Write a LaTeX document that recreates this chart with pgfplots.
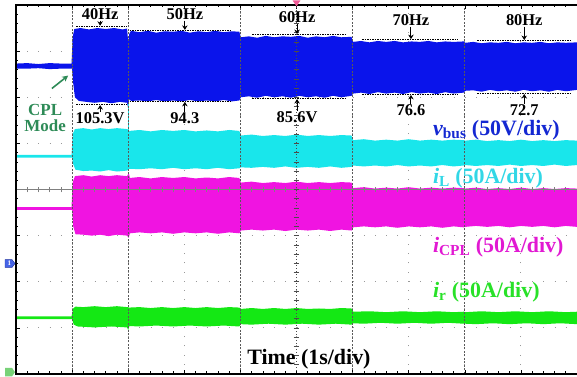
\documentclass[border=0pt]{standalone}
\usepackage{pgfplots}
\pgfplotsset{compat=1.18}
\usepackage{fontspec}
\setmainfont{Liberation Serif}
\usetikzlibrary{arrows.meta,calc}
\definecolor{cb}{RGB}{10,20,235}
\definecolor{cc}{RGB}{25,230,235}
\definecolor{cm}{RGB}{240,20,225}
\definecolor{cg}{RGB}{20,232,20}
\definecolor{lb}{RGB}{20,40,210}
\definecolor{lc}{RGB}{50,215,230}
\definecolor{lm}{RGB}{225,25,210}
\definecolor{lg}{RGB}{40,225,40}
\definecolor{cpl}{RGB}{46,139,87}
\tikzset{ma/.style={-{Stealth[length=4.5bp,width=5.5bp]}, line width=0.9pt, black},
  ml/.style={black, line width=1pt, dash pattern=on 1.5bp off 1bp},
  fq/.style={font=\fontsize{16.5}{18}\selectfont\bfseries, inner sep=0pt},
  ch/.style={font=\fontsize{22}{24}\selectfont\bfseries, inner sep=0pt, anchor=west}}
\begin{document}
\begin{tikzpicture}
\begin{axis}[
 scale only axis, width=561bp, height=369bp,
 xmin=0,xmax=10,ymin=-4,ymax=4,
 clip=false,
 axis line style={draw=none},
 xtick={0,...,10}, ytick={-4,...,4},
 minor x tick num=4, minor y tick num=4,
 xticklabels={}, yticklabels={},
 tick align=inside, xtick pos=both, ytick pos=left,
 major tick length=4bp, minor tick length=2.5bp,
 tick style={black, line width=0.6pt},
 grid=major,
 x grid style={gray!80, line width=1pt, dash pattern=on 1bp off 8.225bp},
 y grid style={gray!80, line width=1pt, dash pattern=on 1bp off 10.22bp},
]
% v_bus
\addplot[draw=none, fill=cb] coordinates {
(0,2.73) (0.2,2.74) (0.4,2.72) (0.6,2.74) (0.8,2.73) (0.99,2.73)
(1.01,3.30) (1.04,3.48) (1.15,3.50) (1.3,3.47) (1.45,3.50) (1.6,3.48) (1.75,3.50) (1.9,3.47) (1.98,3.49) (2.0,3.2)
(2.02,3.38) (2.05,3.44) (2.2,3.41) (2.35,3.44) (2.5,3.40) (2.65,3.43) (2.8,3.42) (2.95,3.44) (3.1,3.40) (3.25,3.43) (3.4,3.41) (3.55,3.44) (3.7,3.41) (3.85,3.43) (3.98,3.42)
(4.01,3.30) (4.15,3.32) (4.3,3.29) (4.45,3.33) (4.6,3.30) (4.75,3.32) (4.9,3.31) (5.05,3.33) (5.2,3.29) (5.35,3.32) (5.5,3.30) (5.65,3.33) (5.8,3.30) (5.98,3.31)
(6.01,3.20) (6.15,3.22) (6.3,3.19) (6.45,3.22) (6.6,3.20) (6.75,3.22) (6.9,3.19) (7.05,3.21) (7.2,3.20) (7.35,3.22) (7.5,3.19) (7.65,3.21) (7.8,3.20) (7.98,3.21)
(8.01,3.18) (8.15,3.20) (8.3,3.17) (8.45,3.19) (8.6,3.18) (8.75,3.20) (8.9,3.17) (9.05,3.19) (9.2,3.18) (9.35,3.20) (9.5,3.17) (9.65,3.19) (9.8,3.18) (10,3.19)
(10,2.16) (9.8,2.13) (9.65,2.16) (9.5,2.12) (9.35,2.15) (9.2,2.13) (9.05,2.16) (8.9,2.12) (8.75,2.15) (8.6,2.13) (8.45,2.16) (8.3,2.12) (8.15,2.15) (8.01,2.14)
(7.98,2.10) (7.8,2.08) (7.65,2.11) (7.5,2.07) (7.35,2.10) (7.2,2.08) (7.05,2.11) (6.9,2.07) (6.75,2.10) (6.6,2.08) (6.45,2.11) (6.3,2.07) (6.15,2.10) (6.01,2.08)
(5.98,2.03) (5.8,2.00) (5.65,2.03) (5.5,1.99) (5.35,2.02) (5.2,2.00) (5.05,2.03) (4.9,1.99) (4.75,2.02) (4.6,2.00) (4.45,2.03) (4.3,1.99) (4.15,2.02) (4.01,2.00)
(3.98,1.93) (3.85,1.91) (3.7,1.94) (3.55,1.91) (3.4,1.93) (3.25,1.91) (3.1,1.94) (2.95,1.91) (2.8,1.93) (2.65,1.91) (2.5,1.94) (2.35,1.91) (2.2,1.93) (2.05,1.92) (2.02,1.96)
(2.0,1.76)
(1.98,1.88) (1.85,1.90) (1.7,1.87) (1.55,1.90) (1.4,1.88) (1.25,1.90) (1.12,1.92) (1.05,2.0) (1.02,2.3) (1.0,2.62)
(0.8,2.62) (0.6,2.61) (0.4,2.63) (0.2,2.62) (0,2.62)};
% i_L
\addplot[draw=none, fill=cc] coordinates {
(0,0.75) (0.99,0.75) (1.01,1.20) (1.05,1.31) (1.2,1.33) (1.35,1.30) (1.5,1.33) (1.65,1.31) (1.8,1.33) (1.98,1.31)
(2.02,1.27) (2.2,1.29) (2.4,1.26) (2.6,1.29) (2.8,1.27) (3.0,1.29) (3.2,1.26) (3.4,1.28) (3.6,1.26) (3.8,1.29) (3.98,1.27)
(4.01,1.17) (4.2,1.19) (4.4,1.16) (4.6,1.18) (4.8,1.16) (5.0,1.19) (5.2,1.16) (5.4,1.18) (5.6,1.16) (5.8,1.18) (5.98,1.17)
(6.01,1.07) (6.2,1.09) (6.4,1.06) (6.6,1.08) (6.8,1.06) (7.0,1.09) (7.2,1.06) (7.4,1.08) (7.6,1.06) (7.8,1.08) (7.98,1.07)
(8.01,1.06) (8.2,1.08) (8.4,1.05) (8.6,1.07) (8.8,1.05) (9.0,1.08) (9.2,1.05) (9.4,1.07) (9.6,1.05) (9.8,1.07) (10,1.06)
(10,0.53) (9.8,0.51) (9.6,0.54) (9.4,0.51) (9.2,0.53) (9.0,0.51) (8.8,0.54) (8.6,0.51) (8.4,0.53) (8.2,0.51) (8.01,0.53)
(7.98,0.52) (7.8,0.50) (7.6,0.53) (7.4,0.50) (7.2,0.52) (7.0,0.50) (6.8,0.53) (6.6,0.50) (6.4,0.52) (6.2,0.50) (6.01,0.52)
(5.98,0.49) (5.8,0.47) (5.6,0.50) (5.4,0.47) (5.2,0.49) (5.0,0.47) (4.8,0.50) (4.6,0.47) (4.4,0.49) (4.2,0.47) (4.01,0.48)
(3.98,0.46) (3.8,0.44) (3.6,0.47) (3.4,0.44) (3.2,0.46) (3.0,0.44) (2.8,0.47) (2.6,0.44) (2.4,0.46) (2.2,0.44) (2.02,0.45)
(1.98,0.41) (1.8,0.39) (1.65,0.42) (1.5,0.39) (1.35,0.41) (1.2,0.40) (1.06,0.43) (1.02,0.55) (1.0,0.69) (0,0.69)};
\addplot[cc, line width=1.2pt] coordinates {(2.01,1.85) (2.01,0.45)};
% i_CPL
\addplot[draw=none, fill=cm] coordinates {
(0,-0.38) (0.99,-0.38) (1.01,0.15) (1.05,0.29) (1.2,0.31) (1.35,0.28) (1.5,0.31) (1.65,0.29) (1.8,0.31) (1.98,0.29)
(2.01,0.36)
(2.03,0.25) (2.2,0.27) (2.4,0.24) (2.6,0.27) (2.8,0.25) (3.0,0.27) (3.2,0.24) (3.4,0.26) (3.6,0.24) (3.8,0.27) (3.98,0.25)
(4.01,0.15) (4.2,0.17) (4.4,0.14) (4.6,0.16) (4.8,0.14) (5.0,0.17) (5.2,0.14) (5.4,0.16) (5.6,0.14) (5.8,0.16) (5.98,0.15)
(6.01,0.03) (6.2,0.05) (6.4,0.02) (6.6,0.04) (6.8,0.02) (7.0,0.05) (7.2,0.02) (7.4,0.04) (7.6,0.02) (7.8,0.04) (7.98,0.03)
(8.01,0.02) (8.2,0.04) (8.4,0.01) (8.6,0.03) (8.8,0.01) (9.0,0.04) (9.2,0.01) (9.4,0.03) (9.6,0.01) (9.8,0.03) (10,0.02)
(10,-0.81) (9.8,-0.79) (9.6,-0.82) (9.4,-0.79) (9.2,-0.81) (9.0,-0.79) (8.8,-0.82) (8.6,-0.79) (8.4,-0.81) (8.2,-0.79) (8.01,-0.81)
(7.98,-0.82) (7.8,-0.80) (7.6,-0.83) (7.4,-0.80) (7.2,-0.82) (7.0,-0.80) (6.8,-0.83) (6.6,-0.80) (6.4,-0.82) (6.2,-0.80) (6.01,-0.82)
(5.98,-0.89) (5.8,-0.87) (5.6,-0.90) (5.4,-0.87) (5.2,-0.89) (5.0,-0.87) (4.8,-0.90) (4.6,-0.87) (4.4,-0.89) (4.2,-0.87) (4.01,-0.89)
(3.98,-0.95) (3.8,-0.93) (3.6,-0.96) (3.4,-0.93) (3.2,-0.95) (3.0,-0.93) (2.8,-0.96) (2.6,-0.93) (2.4,-0.95) (2.2,-0.93) (2.03,-0.95)
(2.01,-1.05)
(1.98,-1.00) (1.8,-0.98) (1.65,-1.01) (1.5,-0.98) (1.35,-1.00) (1.2,-0.98) (1.06,-0.97) (1.02,-0.80) (1.0,-0.44) (0,-0.44)};
% i_r
\addplot[draw=none, fill=cg] coordinates {
(0,-2.75) (0.99,-2.75) (1.02,-2.58) (1.06,-2.54) (1.2,-2.55) (1.4,-2.53) (1.6,-2.55) (1.8,-2.53) (1.98,-2.55)
(2.02,-2.56) (2.2,-2.55) (2.4,-2.57) (2.6,-2.55) (2.8,-2.57) (3.0,-2.55) (3.2,-2.57) (3.4,-2.55) (3.6,-2.57) (3.8,-2.55) (3.98,-2.56)
(4.01,-2.59) (4.2,-2.57) (4.4,-2.59) (4.6,-2.57) (4.8,-2.59) (5.0,-2.57) (5.2,-2.59) (5.4,-2.58) (5.6,-2.59) (5.8,-2.57) (5.98,-2.58)
(6.01,-2.65) (6.3,-2.64) (6.6,-2.66) (6.9,-2.64) (7.2,-2.66) (7.5,-2.64) (7.8,-2.66) (7.98,-2.65)
(8.01,-2.66) (8.3,-2.64) (8.6,-2.66) (8.9,-2.64) (9.2,-2.66) (9.5,-2.64) (9.8,-2.66) (10,-2.65)
(10,-2.92) (9.7,-2.90) (9.4,-2.92) (9.1,-2.90) (8.8,-2.92) (8.5,-2.90) (8.2,-2.92) (8.01,-2.91)
(7.98,-2.91) (7.7,-2.89) (7.4,-2.91) (7.1,-2.89) (6.8,-2.91) (6.5,-2.89) (6.2,-2.91) (6.01,-2.90)
(5.98,-2.93) (5.7,-2.91) (5.4,-2.93) (5.1,-2.91) (4.8,-2.93) (4.5,-2.91) (4.2,-2.93) (4.01,-2.92)
(3.98,-2.97) (3.7,-2.95) (3.4,-2.97) (3.1,-2.95) (2.8,-2.97) (2.5,-2.95) (2.2,-2.97) (2.02,-2.96)
(2.0,-3.05)
(1.98,-2.99) (1.7,-2.97) (1.4,-2.99) (1.1,-2.97) (1.03,-2.93) (1.0,-2.81) (0,-2.81)};
% crosshair and division lines
\draw[gray, line width=0.8pt] (axis cs:0,0) -- (axis cs:10,0);
\pgfplotsinvokeforeach{0.2,0.4,...,9.8}{\draw[gray, line width=0.6pt] (axis cs:#1,-0.06) -- (axis cs:#1,0.06);}
\draw[black!70, line width=0.8pt, dash pattern=on 1bp off 2bp] (axis cs:5,-4) -- (axis cs:5,4);
\pgfplotsinvokeforeach{-3.8,-3.6,...,3.8}{\draw[black!70, line width=0.6pt] (axis cs:4.95,#1) -- (axis cs:5.05,#1);}
\pgfplotsinvokeforeach{1,2,4,6,8}{\draw[black!65, line width=0.9pt, dash pattern=on 2bp off 1.5bp] (axis cs:#1,-4) -- (axis cs:#1,4);}
% frame
\draw[black, line width=1.5bp] (axis cs:10,4) -- (axis cs:0,4) -- (axis cs:0,-4) -- (axis cs:10,-4);
% measurement lines
\draw[ml] (axis cs:1.07,3.54) -- (axis cs:1.98,3.54);
\draw[ml] (axis cs:1.07,1.84) -- (axis cs:1.98,1.84);
\draw[ml] (axis cs:2.03,3.45) -- (axis cs:3.85,3.45);
\draw[ml] (axis cs:2.03,1.91) -- (axis cs:3.85,1.91);
\draw[ml] (axis cs:4.21,3.36) -- (axis cs:5.86,3.36);
\draw[ml] (axis cs:4.21,1.97) -- (axis cs:5.86,1.97);
\draw[ml] (axis cs:6.17,3.25) -- (axis cs:7.88,3.25);
\draw[ml] (axis cs:6.17,2.06) -- (axis cs:7.88,2.06);
\draw[ml] (axis cs:8.22,3.23) -- (axis cs:9.88,3.23);
\draw[ml] (axis cs:8.22,2.08) -- (axis cs:9.88,2.08);
% arrows
\draw[ma] (axis cs:1.50,3.66) -- (axis cs:1.50,3.55);
\draw[ma] (axis cs:3.01,3.66) -- (axis cs:3.01,3.46);
\draw[ma] (axis cs:5.01,3.59) -- (axis cs:5.01,3.37);
\draw[ma] (axis cs:7.04,3.53) -- (axis cs:7.04,3.26);
\draw[ma] (axis cs:9.06,3.53) -- (axis cs:9.06,3.24);
\draw[ma] (axis cs:1.50,1.68) -- (axis cs:1.50,1.83);
\draw[ma] (axis cs:3.01,1.68) -- (axis cs:3.01,1.90);
\draw[ma] (axis cs:5.01,1.70) -- (axis cs:5.01,1.96);
\draw[ma] (axis cs:7.04,1.86) -- (axis cs:7.04,2.05);
\draw[ma] (axis cs:9.06,1.86) -- (axis cs:9.06,2.07);
% labels
\node[fq] at (axis cs:1.50,3.80) {40Hz};
\node[fq] at (axis cs:3.01,3.80) {50Hz};
\node[fq] at (axis cs:5.01,3.73) {60Hz};
\node[fq] at (axis cs:7.04,3.67) {70Hz};
\node[fq] at (axis cs:9.06,3.67) {80Hz};
\node[fq] at (axis cs:1.50,1.54) {105.3V};
\node[fq] at (axis cs:3.01,1.54) {94.3};
\node[fq] at (axis cs:5.01,1.56) {85.6V};
\node[fq] at (axis cs:7.04,1.73) {76.6};
\node[fq] at (axis cs:9.06,1.73) {72.7};
\node[font=\fontsize{17}{16}\selectfont\bfseries, text=cpl, align=center, inner sep=0pt] at (axis cs:0.52,1.56) {CPL\\Mode};
\draw[cpl, line width=1.6pt, -{Stealth[length=6bp,width=6bp]}] (axis cs:0.64,2.19) -- (axis cs:0.93,2.47);
\node[ch, text=lb] at (axis cs:7.43,1.29) {\textit{v}\textsubscript{bus} (50V/div)};
\node[ch, text=lc] at (axis cs:7.43,0.24) {\textit{i}\textsubscript{L} (50A/div)};
\node[ch, text=lm] at (axis cs:7.43,-1.26) {\textit{i}\textsubscript{CPL} (50A/div)};
\node[ch, text=lg] at (axis cs:7.43,-2.23) {\textit{i}\textsubscript{r} (50A/div)};
\node[ch, text=black] at (axis cs:4.12,-3.67) {Time (1s/div)};
% scope markers
\fill[fill={rgb,255:red,240;green,90;blue,150}] (axis cs:4.93,4.10) -- (axis cs:5.07,4.10) -- (axis cs:5,3.97) -- cycle;
\filldraw[fill={rgb,255:red,70;green,100;blue,230}, draw={rgb,255:red,30;green,50;blue,160}, line width=0.4pt] (axis cs:-0.196,-1.52) -- (axis cs:-0.07,-1.52) -- (axis cs:-0.018,-1.605) -- (axis cs:-0.07,-1.69) -- (axis cs:-0.196,-1.69) -- cycle;
\node[font=\fontsize{7}{7}\selectfont\bfseries, text=white, inner sep=0pt] at (axis cs:-0.12,-1.605) {1};
\fill[fill={rgb,255:red,120;green,210;blue,120}] (axis cs:-0.196,-3.87) -- (axis cs:-0.07,-3.87) -- (axis cs:-0.018,-3.96) -- (axis cs:-0.07,-4.05) -- (axis cs:-0.196,-4.05) -- cycle;
\end{axis}
\pgfresetboundingbox
\path[use as bounding box] ($(current axis.south west)+(-16bp,-3bp)$) rectangle ($(current axis.north east)+(0bp,5bp)$);
\end{tikzpicture}
\end{document}
